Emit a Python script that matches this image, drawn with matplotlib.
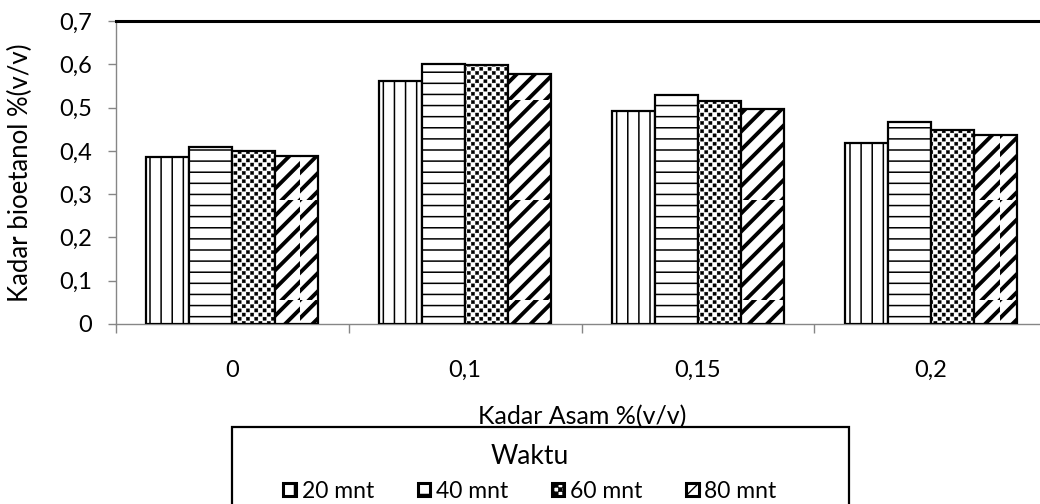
import numpy as np
import matplotlib
matplotlib.use("Agg")
import matplotlib.pyplot as plt
import matplotlib.hatch as mhatch
import matplotlib.backend_bases as mbb
from matplotlib.path import Path
from matplotlib.patches import Patch, Rectangle

# ---------------- data ----------------
categories = ["0", "0,1", "0,15", "0,2"]
series_names = ["20 mnt", "40 mnt", "60 mnt", "80 mnt"]
v20 = [0.386, 0.561, 0.493, 0.419]
v40 = [0.409, 0.601, 0.529, 0.467]
v60 = [0.399, 0.599, 0.515, 0.449]
v80 = [0.389, 0.578, 0.497, 0.436]
yticks = [0, 0.1, 0.2, 0.3, 0.4, 0.5, 0.6, 0.7]
ytick_labels = ["0", "0,1", "0,2", "0,3", "0,4", "0,5", "0,6", "0,7"]

# ---------------- custom hatching (checkerboard + density control) ----------------
class Checker(mhatch.HatchPatternBase):
    def __init__(self, hatch, density):
        self.n = int(hatch.count('*') * density)
        if self.n % 2:
            self.n += 1
        self.num_vertices = (self.n * self.n // 2) * 5 if self.n else 0

    def set_vertices_and_codes(self, vertices, codes):
        n = self.n
        s = 1.0 / n
        m = s * 0.12
        k = 0
        for i in range(n):
            for j in range(n):
                if (i + j) % 2:
                    continue
                x0, y0 = i * s + m, j * s + m
                x1, y1 = (i + 1) * s - m, (j + 1) * s - m
                vertices[k:k + 5] = [[x0, y0], [x1, y0], [x1, y1], [x0, y1], [x0, y0]]
                codes[k:k + 5] = [Path.MOVETO, Path.LINETO, Path.LINETO,
                                  Path.LINETO, Path.CLOSEPOLY]
                k += 5

mhatch._hatch_types = [t for t in mhatch._hatch_types if t is not mhatch.Stars] + [Checker]

_orig_ghp = mbb.GraphicsContextBase.get_hatch_path
def _ghp(self, density=6.0):
    return _orig_ghp(self, density=1)
mbb.GraphicsContextBase.get_hatch_path = _ghp

hatches = ['|' * 9, '-' * 9, '*' * 24, '/' * 11]
hatch_lws = [1.1, 1.1, 0.3, 2.8]

# ---------------- figure ----------------
FONT = "Lato"
plt.rcParams['font.family'] = [FONT, 'DejaVu Sans']
W, H = 1040, 504
fig = plt.figure(figsize=(W / 100, H / 100), dpi=100)
ax_left, ax_right, ax_top, ax_bottom = 116, 1047, 21, 324
ax = fig.add_axes([ax_left / W, 1 - ax_bottom / H, (ax_right - ax_left) / W,
                   (ax_bottom - ax_top) / H])

x = np.arange(len(categories))
bw = 0.185
all_series = [v20, v40, v60, v80]
for i, vals in enumerate(all_series):
    offs = (i - 1.5) * bw
    with plt.rc_context({'hatch.linewidth': hatch_lws[i], 'hatch.color': 'black'}):
        bars = ax.bar(x + offs, vals, width=bw, color='white', edgecolor='black',
                      linewidth=1.6, hatch=hatches[i], zorder=3)
        for b in bars:
            if hasattr(b, 'set_hatch_linewidth'):
                b.set_hatch_linewidth(hatch_lws[i])

ax.set_xlim(-0.5, 3.5)
ax.set_ylim(0, 0.7)
ax.set_yticks(yticks)
ax.set_yticklabels(ytick_labels)
ax.set_xticks(x)
ax.set_xticklabels(categories)
ax.set_xticks(np.arange(-0.5, 4.0, 1.0), minor=True)

grey = '#868686'
ax.spines['left'].set_color(grey)
ax.spines['bottom'].set_color(grey)
ax.spines['left'].set_linewidth(1.0)
ax.spines['bottom'].set_linewidth(1.0)
ax.spines['right'].set_visible(False)
ax.spines['top'].set_color('black')
ax.spines['top'].set_linewidth(2.2)

TS = 17
ax.tick_params(axis='y', which='major', direction='out', length=6, width=1.0,
               color=grey, pad=11, labelsize=TS)
ax.tick_params(axis='x', which='major', length=0, pad=26, labelsize=TS)
ax.tick_params(axis='x', which='minor', direction='out', length=6.5, width=1.0,
               color=grey)

fig.text(20 / W, 1 - 173 / H, "Kadar bioetanol %(v/v)", rotation=90,
         ha='center', va='center', fontsize=18.5)
fig.text(582 / W, 1 - 417 / H, "Kadar Asam %(v/v)", ha='center', va='center',
         fontsize=18)

# legend box
fig.patches.append(Rectangle((232 / W, -0.05), (849 - 232) / W, 0.05 + (1 - 427 / H),
                             transform=fig.transFigure, facecolor='none',
                             edgecolor='black', linewidth=1.6, zorder=5))

handles = []
for i in range(4):
    with plt.rc_context({'hatch.linewidth': 1.0, 'hatch.color': 'black'}):
        h = Patch(facecolor='white', edgecolor='black', linewidth=2.2,
                  hatch=hatches[i])
    handles.append(h)

leg = fig.legend(handles, series_names, ncol=4, loc='center',
                 bbox_to_anchor=(530 / W, 1 - 473 / H), frameon=False,
                 title="Waktu", title_fontsize=19, fontsize=16.5,
                 handlelength=0.55, handleheight=0.55, handletextpad=0.25,
                 columnspacing=1.9, labelspacing=0.1, borderaxespad=0,
                 borderpad=0.2)
leg._legend_box.sep = 8

fig.savefig("out.png", dpi=100)
